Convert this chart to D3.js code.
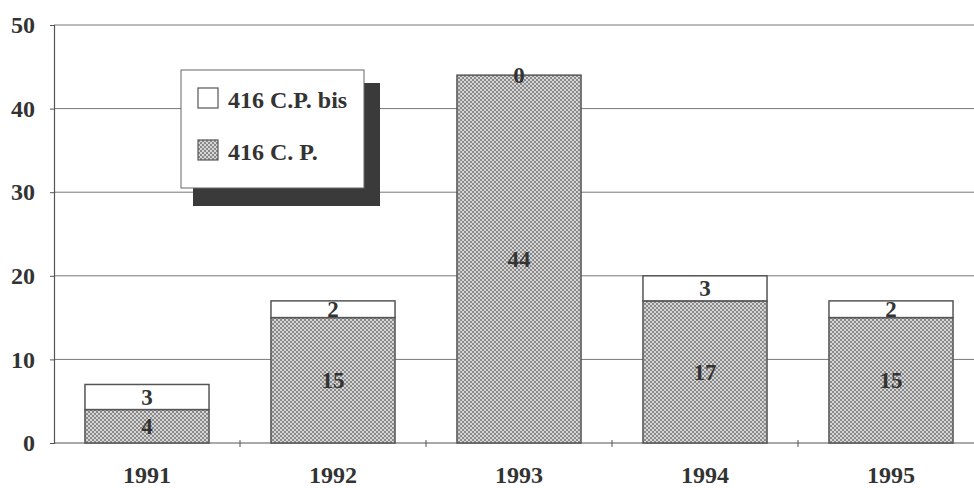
<!DOCTYPE html>
<html>
<head>
<meta charset="utf-8">
<script src="https://cdn.jsdelivr.net/npm/d3@7"></script>
<style>
  body { margin: 0; background: #fff; }
  svg text { font-family: "Liberation Serif", "Times New Roman", serif; font-weight: bold; fill: #333; }
</style>
</head>
<body>
<div id="chart"></div>
<script>
var years = ["1991", "1992", "1993", "1994", "1995"];
var cp = [4, 15, 44, 17, 15];       // 416 C. P.
var cpBis = [3, 2, 0, 3, 2];        // 416 C.P. bis
var yTicks = [0, 10, 20, 30, 40, 50];
var seriesNames = ["416 C.P. bis", "416 C. P."];

var margin = {top: 25, right: 0, bottom: 45, left: 54};
var width = 974 - margin.left - margin.right;
var height = 488 - margin.top - margin.bottom;

var svg = d3.select('#chart')
  .append('svg')
    .attr('width', 974)
    .attr('height', 488);

// dotted fill like the printed screen
var defs = svg.append('defs');
var pat = defs.append('pattern')
  .attr('id', 'dots')
  .attr('patternUnits', 'userSpaceOnUse')
  .attr('width', 4).attr('height', 4);
pat.append('rect').attr('width', 4).attr('height', 4).attr('fill', '#d6d6d6');
pat.append('rect').attr('x', 0).attr('y', 0).attr('width', 2).attr('height', 2).attr('fill', '#8a8a8a');
pat.append('rect').attr('x', 2).attr('y', 2).attr('width', 2).attr('height', 2).attr('fill', '#8a8a8a');

var g = svg.append('g')
  .attr('transform', 'translate(' + margin.left + ',' + margin.top + ')');

var x = d3.scaleBand()
  .domain(years)
  .range([0, 930])
  .paddingInner(0.333)
  .paddingOuter(0.1665);

var y = d3.scaleLinear()
  .domain([0, 50])
  .range([height, 0]);

// gridlines
g.selectAll('.grid')
  .data(yTicks.slice(1))
  .enter().append('line')
    .attr('x1', 0).attr('x2', width)
    .attr('y1', function(d) { return y(d); })
    .attr('y2', function(d) { return y(d); })
    .attr('stroke', '#777')
    .attr('stroke-width', 1);

// y axis
var yAxis = g.append('g')
  .call(d3.axisLeft(y).tickValues(yTicks).tickSize(4).tickPadding(15));
yAxis.select('.domain').attr('stroke', '#555').attr('stroke-width', 1.2);
yAxis.selectAll('.tick line').attr('stroke', '#555');
yAxis.selectAll('text').style('font-size', '24px').attr('fill', '#333');

// x axis line with ticks between categories
g.append('line')
  .attr('x1', 0).attr('x2', width)
  .attr('y1', height).attr('y2', height)
  .attr('stroke', '#555').attr('stroke-width', 1.2);

var step = x.step();
g.selectAll('.xtick')
  .data(years.slice(1))
  .enter().append('line')
    .attr('x1', function(d) { return x(d) - x.paddingInner() * step / 2; })
    .attr('x2', function(d) { return x(d) - x.paddingInner() * step / 2; })
    .attr('y1', height - 3).attr('y2', height + 4)
    .attr('stroke', '#555');

g.selectAll('.xlabel')
  .data(years)
  .enter().append('text')
    .attr('x', function(d) { return x(d) + x.bandwidth() / 2; })
    .attr('y', height + 40)
    .attr('text-anchor', 'middle')
    .style('font-size', '24px')
    .text(function(d) { return d; });

// bars: bottom 416 C. P.
g.selectAll('.barcp')
  .data(years)
  .enter().append('rect')
    .attr('x', function(d) { return x(d); })
    .attr('y', function(d, i) { return y(cp[i]); })
    .attr('width', x.bandwidth())
    .attr('height', function(d, i) { return y(0) - y(cp[i]); })
    .attr('fill', 'url(#dots)')
    .attr('stroke', '#555')
    .attr('stroke-width', 1.5);

// top 416 C.P. bis
g.selectAll('.barbis')
  .data(years)
  .enter().append('rect')
    .attr('x', function(d) { return x(d); })
    .attr('y', function(d, i) { return y(cp[i] + cpBis[i]); })
    .attr('width', x.bandwidth())
    .attr('height', function(d, i) { return y(cp[i]) - y(cp[i] + cpBis[i]); })
    .attr('fill', '#fff')
    .attr('stroke', '#555')
    .attr('stroke-width', 1.5);

// value labels
g.selectAll('.lblcp')
  .data(years)
  .enter().append('text')
    .attr('x', function(d) { return x(d) + x.bandwidth() / 2; })
    .attr('y', function(d, i) { return y(cp[i] / 2); })
    .attr('dy', '0.35em')
    .attr('text-anchor', 'middle')
    .style('font-size', '23px')
    .text(function(d, i) { return cp[i]; });

g.selectAll('.lblbis')
  .data(years)
  .enter().append('text')
    .attr('x', function(d) { return x(d) + x.bandwidth() / 2; })
    .attr('y', function(d, i) { return y(cp[i] + cpBis[i] / 2); })
    .attr('dy', '0.35em')
    .attr('text-anchor', 'middle')
    .style('font-size', '23px')
    .text(function(d, i) { return cpBis[i]; });

// legend with shadow
var legend = svg.append('g').attr('transform', 'translate(181,70)');
legend.append('rect')
  .attr('x', 12).attr('y', 13)
  .attr('width', 187).attr('height', 123)
  .attr('fill', '#3a3a3a');
legend.append('rect')
  .attr('x', 0).attr('y', 0)
  .attr('width', 183).attr('height', 118)
  .attr('fill', '#fff')
  .attr('stroke', '#666')
  .attr('stroke-width', 1);

var items = legend.selectAll('.item')
  .data(seriesNames)
  .enter().append('g')
    .attr('transform', function(d, i) { return 'translate(17,' + (18 + i * 52) + ')'; });
items.append('rect')
  .attr('width', 20).attr('height', 20)
  .attr('fill', function(d, i) { return i === 0 ? '#fff' : 'url(#dots)'; })
  .attr('stroke', '#555')
  .attr('stroke-width', 1.2);
items.append('text')
  .attr('x', 30).attr('y', 20)
  .style('font-size', '24px')
  .text(function(d) { return d; });
</script>
</body>
</html>
